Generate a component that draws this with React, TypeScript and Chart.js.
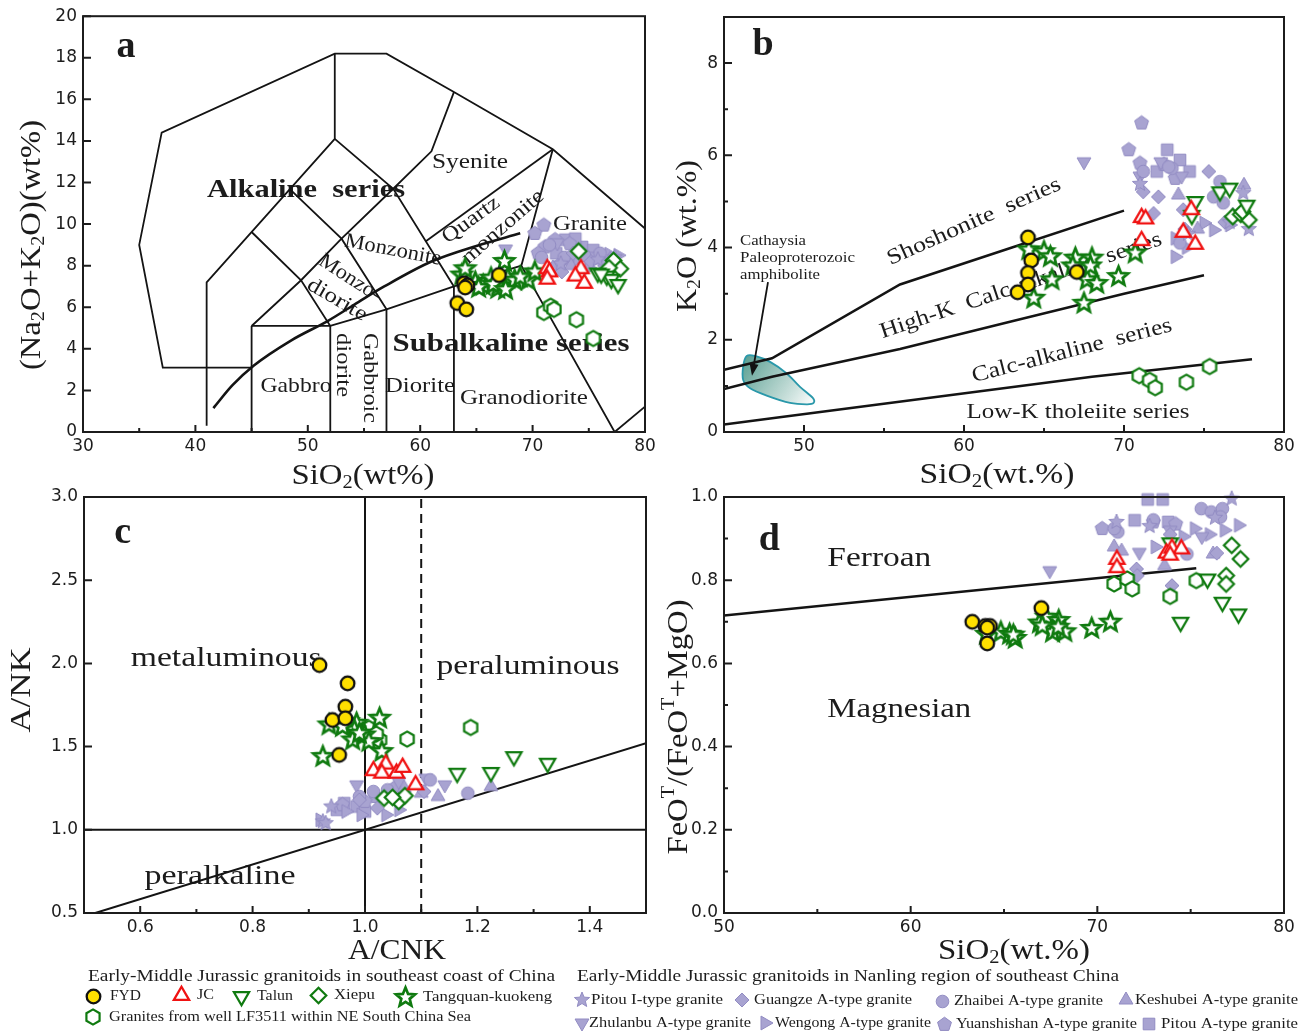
import { useEffect, useRef } from 'react';
import { Chart, registerables } from 'chart.js';

Chart.register(...registerables);

type P = [number, number];
type Seg = { t: string; s?: 'sub' | 'sup' };

// ---------------- categories ----------------
const seriesKeys = ['fyd', 'jc', 'talun', 'xiepu', 'tang', 'lf', 'pitouI', 'guangze', 'zhaibei', 'keshubei', 'zhulanbu', 'wengong', 'yuanshishan', 'pitouA'];
const seriesNames = ['FYD', 'JC', 'Talun', 'Xiepu', 'Tangquan-kuokeng', 'Granites from well LF3511 within NE South China Sea',
  'Pitou I-type granite', 'Guangze A-type granite', 'Zhaibei A-type granite', 'Keshubei A-type granite',
  'Zhulanbu A-type granite', 'Wengong A-type granite', 'Yuanshishan A-type granite', 'Pitou A-type granite'];
const legendHeaders = ['Early-Middle Jurassic granitoids in southeast coast of China', 'Early-Middle Jurassic granitoids in Nanling region of southeast China'];

// ---------------- tick labels ----------------
const aXTicks = [30, 40, 50, 60, 70, 80];
const aXMinor = [35, 45, 55, 65, 75];
const aYTicks = [0, 2, 4, 6, 8, 10, 12, 14, 16, 18, 20];
const bXTicks = [50, 60, 70, 80];
const bXMinor = [55, 65, 75];
const bYTicks = [0, 2, 4, 6, 8];
const bYMinor = [1, 3, 5, 7];
const cXTicks = [0.6, 0.8, 1.0, 1.2, 1.4];
const cXMinor = [0.7, 0.9, 1.1, 1.3];
const cYTicks = [0.5, 1.0, 1.5, 2.0, 2.5, 3.0];
const dXTicks = [50, 60, 70, 80];
const dXMinor = [55, 65, 75];
const dYTicks = [0, 0.2, 0.4, 0.6, 0.8, 1.0];
const dYMinor = [0.1, 0.3, 0.5, 0.7, 0.9];

// ---------------- panel a: TAS boundaries ----------------
const aOuter: P[] = [[45, 3.1], [37.1, 3.1], [35, 9], [37, 14.4], [52.4, 18.2], [57, 18.2], [63, 16.35], [71.8, 13.6], [86, 7.0]];
const aFoidLine: P[] = [[41, 0.3], [41, 7.2], [52.4, 14.1], [52.4, 18.2]];
const aMonzogabbroTop: P[] = [[45, 9.62], [49.4, 7.3], [52, 5.1]];
const aMainDiag: P[] = [[45, 5.1], [49.4, 7.3], [53, 9.3], [57.6, 11.7], [61, 13.5], [63, 16.35]];
const aPhonoLine: P[] = [[48.4, 11.68], [53, 9.3], [57, 5.9]];
const aSyeniteLine: P[] = [[52.4, 14.1], [57.6, 11.7], [63, 7]];
const aQtzMonzTop: P[] = [[60.5, 9.18], [71.8, 13.6]];
const aGraniteLine: P[] = [[71.8, 13.6], [69, 8], [77.3, 0]];
const aOuterBottom: P[] = [[77.3, 0], [87.5, 4.6]];
const aSubalkTop: P[] = [[45, 5.1], [52, 5.1], [57, 5.9], [63, 7], [69, 8]];
const aV45: P[] = [[45, 0], [45, 5.1]];
const aV52: P[] = [[52, 0], [52, 5.1]];
const aV57: P[] = [[57, 0], [57, 5.9]];
const aV63: P[] = [[63, 0], [63, 7]];
const aAlkCurve: P[] = [[41.6, 1.15], [43.3, 2.25], [45.2, 3.2], [48.5, 4.4], [51.8, 5.35], [54.5, 6.25], [56.8, 7.0], [61, 8.2], [65, 8.95], [68.9, 9.56]];

// ---------------- panel a: samples ----------------
const aFYD: P[] = [[63.9, 7.15], [64.2, 7.05], [64.0, 6.95], [67.0, 7.55], [63.3, 6.2], [64.1, 5.9]];
const aJC: P[] = [[71.3, 7.85], [71.5, 7.7], [71.3, 7.35], [74.3, 7.85], [73.8, 7.5], [74.6, 7.15]];
const aTalun: P[] = [[75.8, 7.65], [76.6, 7.5], [77.0, 7.35], [77.6, 7.1], [76.1, 7.6]];
const aXiepu: P[] = [[74.1, 8.7], [77.2, 8.25], [77.8, 7.85], [76.8, 7.9]];
const aTang: P[] = [[63.7, 7.55], [64.0, 7.85], [64.9, 7.2], [65.6, 7.05], [66.3, 7.4], [66.9, 6.9], [67.2, 7.15], [67.5, 8.2], [67.8, 7.4], [68.4, 7.3], [69.6, 7.3], [70.2, 7.7], [65.2, 6.95], [66.5, 7.1], [67.6, 6.85], [68.9, 7.45]];
const aLF: P[] = [[71.0, 5.75], [71.6, 6.05], [71.9, 5.9], [73.9, 5.4], [75.4, 4.5]];
const aPitouI: P[] = [[75.8, 8.3], [77.3, 8.4], [72.5, 8.1]];
const aGuangze: P[] = [[73.6, 8.6], [75.2, 8.2], [76.4, 8.0], [72.6, 7.7]];
const aZhaibei: P[] = [[71.5, 9.0], [72.8, 8.4], [74.6, 8.5], [76.0, 8.6], [70.8, 8.4]];
const aKeshubei: P[] = [[73.4, 8.0], [76.9, 8.3], [71.8, 7.9]];
const aZhulanbu: P[] = [[67.6, 8.8], [72.2, 9.1], [75.6, 8.45]];
const aWengong: P[] = [[74.0, 8.3], [76.8, 8.55], [77.6, 8.5], [75.0, 7.9]];
const aYuanshishan: P[] = [[71.0, 9.95], [70.2, 9.55], [72.0, 9.25], [71.1, 8.9], [70.5, 8.6], [73.3, 9.05], [72.3, 8.0]];
const aPitouA: P[] = [[72.9, 9.25], [74.4, 8.9], [75.4, 8.75], [73.2, 8.3], [72.1, 8.6], [76.0, 8.35], [73.8, 9.3]];

// ---------------- panel b: K2O vs SiO2 ----------------
const bLowK: P[] = [[45, 0.16], [48, 0.3], [68, 1.2], [78, 1.58]];
const bCalcAlk: P[] = [[45, 0.93], [48, 1.2], [56, 1.8], [63, 2.4], [70, 3.0], [75, 3.4]];
const bHighK: P[] = [[45, 1.35], [48, 1.6], [56, 3.2], [63, 4.0], [70, 4.8]];
const bAmphibolite: P[] = [[46.42, 1.65], [46.94, 1.65], [47.88, 1.52], [48.92, 1.27], [49.75, 0.98], [50.55, 0.74], [50.6, 0.63], [50.2, 0.6], [49.13, 0.63], [47.67, 0.79], [46.63, 0.95], [46.2, 1.13], [46.2, 1.43]];
const bArrow: P[] = [[47.75, 3.25], [46.75, 1.22]];

const bFYD: P[] = [[64.0, 4.22], [64.2, 3.72], [64.0, 3.45], [64.0, 3.2], [63.35, 3.03], [67.05, 3.47]];
const bJC: P[] = [[71.1, 4.65], [71.35, 4.62], [71.1, 4.15], [74.2, 4.82], [73.7, 4.33], [74.45, 4.07]];
const bTalun: P[] = [[74.45, 5.0], [74.24, 4.7], [76.0, 5.21], [76.6, 5.29], [77.67, 4.92]];
const bXiepu: P[] = [[76.8, 4.67], [77.3, 4.72], [77.8, 4.6], [77.4, 4.78]];
const bTang: P[] = [[64.05, 3.95], [65.0, 3.91], [65.4, 3.8], [64.36, 2.9], [65.5, 3.3], [66.96, 3.77], [68.0, 3.77], [67.7, 3.3], [68.3, 3.22], [67.5, 2.79], [69.66, 3.37], [70.7, 3.88], [67.9, 3.6], [66.8, 3.6]];
const bLF: P[] = [[70.95, 1.22], [71.6, 1.12], [71.95, 0.96], [73.9, 1.08], [75.35, 1.42]];
const bPitouI: P[] = [[71.0, 5.38], [77.45, 5.18], [76.6, 4.55], [77.8, 4.4], [74.0, 4.3]];
const bGuangze: P[] = [[75.3, 5.65], [71.2, 5.21], [72.15, 5.1], [71.85, 4.74], [73.7, 4.82], [73.8, 4.4], [76.3, 4.55]];
const bZhaibei: P[] = [[71.2, 5.65], [73.0, 5.72], [76.0, 5.43], [75.6, 5.1], [76.2, 4.97], [73.5, 4.1], [72.8, 5.75]];
const bKeshubei: P[] = [[73.4, 5.14], [77.5, 5.35], [74.6, 4.4], [76.8, 4.7]];
const bZhulanbu: P[] = [[67.5, 5.86], [72.3, 5.86], [71.0, 5.55], [73.6, 5.55]];
const bWengong: P[] = [[73.2, 4.2], [73.2, 3.8], [75.0, 4.53], [75.6, 4.38], [76.6, 4.49], [73.9, 4.0]];
const bYuanshishan: P[] = [[71.1, 6.7], [70.3, 6.12], [71.0, 5.83], [73.2, 5.5], [72.5, 5.8]];
const bPitouA: P[] = [[72.7, 6.12], [73.5, 5.9], [72.05, 5.65], [74.1, 5.65]];

// ---------------- panel c: A/NK vs A/CNK ----------------
const cHoriz: P[] = [[0.5, 1], [1.5, 1]];
const cVert: P[] = [[1, 0.5], [1, 3]];
const cDashed: P[] = [[1.1, 0.5], [1.1, 3]];
const cDiag: P[] = [[0.52, 0.5], [1.5, 1.52]];

const cFYD: P[] = [[0.919, 1.99], [0.969, 1.88], [0.965, 1.74], [0.942, 1.66], [0.965, 1.67], [0.954, 1.45]];
const cJC: P[] = [[1.015, 1.355], [1.037, 1.395], [1.03, 1.34], [1.056, 1.34], [1.067, 1.375], [1.09, 1.27]];
const cTalun: P[] = [[1.164, 1.34], [1.224, 1.345], [1.265, 1.44], [1.325, 1.4]];
const cXiepu: P[] = [[1.034, 1.19], [1.06, 1.17], [1.071, 1.205], [1.049, 1.195]];
const cTang: P[] = [[0.936, 1.63], [0.925, 1.44], [0.97, 1.65], [0.985, 1.64], [1.026, 1.67], [0.981, 1.6], [0.999, 1.57], [0.978, 1.54], [1.007, 1.53], [1.03, 1.47], [0.99, 1.58], [0.96, 1.62]];
const cLF: P[] = [[1.007, 1.61], [1.026, 1.54], [1.075, 1.545], [1.188, 1.615], [1.02, 1.575]];
const cPitouI: P[] = [[0.94, 1.14], [0.925, 1.05], [0.93, 1.04]];
const cGuangze: P[] = [[1.105, 1.23], [1.022, 1.13], [1.06, 1.16], [0.99, 1.18]];
const cZhaibei: P[] = [[1.116, 1.3], [1.183, 1.22], [1.015, 1.23], [1.04, 1.24], [0.99, 1.2]];
const cKeshubei: P[] = [[1.13, 1.2], [1.224, 1.26], [1.1, 1.22], [1.07, 1.25]];
const cZhulanbu: P[] = [[0.985, 1.27], [1.108, 1.31], [1.142, 1.27], [1.06, 1.29]];
const cWengong: P[] = [[0.966, 1.11], [0.993, 1.09], [1.037, 1.09], [0.92, 1.06], [1.06, 1.12]];
const cYuanshishan: P[] = [[1.052, 1.25], [1.019, 1.2], [0.96, 1.15], [1.0, 1.17]];
const cPitouA: P[] = [[0.963, 1.16], [0.985, 1.14], [1.0, 1.11], [0.95, 1.12]];

// ---------------- panel d: FeOT/(FeOT+MgO) vs SiO2 ----------------
const dFerroan: P[] = [[50, 0.715], [75.3, 0.829]];

const dFYD: P[] = [[63.3, 0.70], [64.0, 0.69], [64.25, 0.69], [64.1, 0.648], [67.0, 0.733], [64.1, 0.686]];
const dJC: P[] = [[71.05, 0.85], [71.05, 0.83], [73.7, 0.865], [74.0, 0.877], [74.5, 0.875], [73.9, 0.86]];
const dTalun: P[] = [[75.9, 0.803], [76.7, 0.747], [77.56, 0.719], [74.46, 0.699], [73.9, 0.89]];
const dXiepu: P[] = [[77.2, 0.884], [77.67, 0.851], [76.9, 0.811], [76.9, 0.791]];
const dTang: P[] = [[64.06, 0.67], [64.83, 0.675], [65.3, 0.67], [65.6, 0.66], [66.9, 0.697], [67.27, 0.711], [67.93, 0.703], [67.6, 0.675], [68.26, 0.676], [67.9, 0.687], [69.7, 0.684], [70.7, 0.699], [67.05, 0.69], [65.5, 0.668]];
const dLF: P[] = [[70.9, 0.791], [71.6, 0.803], [71.87, 0.779], [73.9, 0.761], [75.3, 0.799]];
const dPitouI: P[] = [[77.2, 0.996], [71.03, 0.94], [76.3, 0.95], [72.8, 0.93]];
const dGuangze: P[] = [[72.1, 0.827], [74.0, 0.787], [72.14, 0.811], [73.9, 0.91], [76.4, 0.865]];
const dZhaibei: P[] = [[75.57, 0.972], [76.1, 0.964], [76.7, 0.972], [76.6, 0.952], [71.1, 0.916], [70.9, 0.924], [74.8, 0.863], [73.0, 0.945]];
const dKeshubei: P[] = [[70.9, 0.88], [76.2, 0.863], [73.6, 0.835], [71.3, 0.87]];
const dZhulanbu: P[] = [[67.45, 0.823], [72.25, 0.867], [73.9, 0.92], [75.6, 0.905]];
const dWengong: P[] = [[77.56, 0.932], [76.8, 0.92], [75.2, 0.924], [73.1, 0.88], [74.6, 0.905], [76.0, 0.91]];
const dYuanshishan: P[] = [[70.26, 0.924], [73.0, 0.94], [74.2, 0.935]];
const dPitouA: P[] = [[72.7, 0.994], [73.5, 0.994], [72.0, 0.944], [73.8, 0.94]];

// ---------------- styling ----------------
const SERIF = '"Liberation Serif", "Times New Roman", serif';
const SANS = '"DejaVu Sans", "Liberation Sans", sans-serif';
const INK = '#1c1c1c';
const GREEN = '#0f7a0f';
const RED = '#f01212';
const YELLOW = '#ffe000';
const PURPLE = '#a8a3d1';
const PURPLE_EDGE = '#918bc2';

interface MarkerStyle { kind: string; r: number; fill: string; stroke: string; lw: number }
const markerStyles: Record<string, MarkerStyle> = {
  fyd: { kind: 'circle', r: 6.8, fill: YELLOW, stroke: '#111', lw: 2.3 },
  jc: { kind: 'tri', r: 8.8, fill: '#fff', stroke: RED, lw: 2.3 },
  talun: { kind: 'down', r: 8.8, fill: '#fff', stroke: GREEN, lw: 2.2 },
  xiepu: { kind: 'diamond', r: 7.8, fill: '#fff', stroke: GREEN, lw: 2.2 },
  tang: { kind: 'star', r: 10, fill: '#fff', stroke: GREEN, lw: 2.7 },
  lf: { kind: 'hexagon', r: 7.6, fill: '#fff', stroke: GREEN, lw: 2.2 },
  pitouI: { kind: 'star', r: 8, fill: PURPLE, stroke: PURPLE_EDGE, lw: 1 },
  guangze: { kind: 'diamond', r: 7, fill: PURPLE, stroke: PURPLE_EDGE, lw: 1 },
  zhaibei: { kind: 'circle', r: 6.3, fill: PURPLE, stroke: PURPLE_EDGE, lw: 1 },
  keshubei: { kind: 'tri', r: 8, fill: PURPLE, stroke: PURPLE_EDGE, lw: 1 },
  zhulanbu: { kind: 'down', r: 8, fill: PURPLE, stroke: PURPLE_EDGE, lw: 1 },
  wengong: { kind: 'right', r: 8, fill: PURPLE, stroke: PURPLE_EDGE, lw: 1 },
  yuanshishan: { kind: 'pentagon', r: 7.3, fill: PURPLE, stroke: PURPLE_EDGE, lw: 1 },
  pitouA: { kind: 'square', r: 5.8, fill: PURPLE, stroke: PURPLE_EDGE, lw: 1 },
};

function shapePath(ctx: CanvasRenderingContext2D, kind: string, r: number) {
  ctx.beginPath();
  const poly = (n: number, start: number) => {
    for (let i = 0; i < n; i++) {
      const a = start + (i * 2 * Math.PI) / n;
      const px = Math.cos(a) * r, py = Math.sin(a) * r;
      if (i === 0) ctx.moveTo(px, py); else ctx.lineTo(px, py);
    }
    ctx.closePath();
  };
  switch (kind) {
    case 'circle': ctx.arc(0, 0, r, 0, Math.PI * 2); break;
    case 'tri': poly(3, -Math.PI / 2); break;
    case 'down': poly(3, Math.PI / 2); break;
    case 'right': poly(3, 0); break;
    case 'diamond': poly(4, -Math.PI / 2); break;
    case 'square': ctx.rect(-r, -r, 2 * r, 2 * r); break;
    case 'pentagon': poly(5, -Math.PI / 2); break;
    case 'hexagon': poly(6, -Math.PI / 2); break;
    case 'star':
      for (let i = 0; i < 10; i++) {
        const a = -Math.PI / 2 + (i * Math.PI) / 5;
        const rr = i % 2 ? r * 0.44 : r;
        const px = Math.cos(a) * rr, py = Math.sin(a) * rr;
        if (i === 0) ctx.moveTo(px, py); else ctx.lineTo(px, py);
      }
      ctx.closePath();
      break;
  }
}

function buildMarkers() {
  const out: Record<string, HTMLCanvasElement> = {};
  for (const k of seriesKeys) {
    const st = markerStyles[k];
    const size = Math.ceil(2 * (st.r + 2 * st.lw) + 2);
    const c = document.createElement('canvas');
    c.width = size; c.height = size;
    const ctx = c.getContext('2d')!;
    ctx.translate(size / 2, size / 2);
    shapePath(ctx, st.kind, st.r);
    ctx.fillStyle = st.fill; ctx.fill();
    ctx.lineWidth = st.lw; ctx.strokeStyle = st.stroke; ctx.lineJoin = 'miter'; ctx.stroke();
    out[k] = c;
  }
  return out;
}

interface TextOpts { bold?: boolean; rot?: number; w?: number; align?: 'left' | 'center'; family?: string; color?: string }
function drawText(ctx: CanvasRenderingContext2D, text: string | Seg[], x: number, y: number, size: number, o: TextOpts = {}) {
  const segs: Seg[] = typeof text === 'string' ? [{ t: text }] : text;
  const fam = o.family || SERIF;
  const wt = o.bold ? 'bold ' : '';
  ctx.save();
  ctx.translate(x, y);
  if (o.rot) ctx.rotate((o.rot * Math.PI) / 180);
  const fonts = segs.map((s) => (s.s ? `${wt}${Math.round(size * 0.62)}px ${fam}` : `${wt}${size}px ${fam}`));
  let total = 0;
  const widths = segs.map((s, i) => { ctx.font = fonts[i]; const w = ctx.measureText(s.t).width; total += w; return w; });
  if (o.w) ctx.scale(o.w / total, 1);
  let cx = o.align === 'left' ? 0 : -total / 2;
  ctx.fillStyle = o.color || INK;
  ctx.textBaseline = 'middle';
  ctx.textAlign = 'left';
  segs.forEach((s, i) => {
    ctx.font = fonts[i];
    const dy = s.s === 'sub' ? size * 0.26 : s.s === 'sup' ? -size * 0.32 : 0;
    ctx.fillText(s.t, cx, dy);
    cx += widths[i];
  });
  ctx.restore();
}

interface Label { t: string; x: number; y: number; size: number; bold?: boolean; rot?: number; w?: number; align?: 'left' | 'center' }
interface LineDef { pts: P[]; w?: number; dash?: number[]; smooth?: boolean }
interface Title { segs: Seg[]; x: number; y: number; w: number }
interface PanelDef {
  id: string;
  plot: { l: number; t: number; r: number; b: number };
  x: { min: number; max: number; ticks: number[]; minor: number[]; dec: number };
  y: { min: number; max: number; ticks: number[]; minor: number[]; dec: number };
  lines: LineDef[];
  series: Record<string, P[]>;
  labels: Label[];
  xTitle: Title;
  yTitle: Title;
  ellipse?: boolean;
  legend?: boolean;
}

const R = 21; // region label size

const panels: PanelDef[] = [
  {
    id: 'a',
    plot: { l: 83, t: 16, r: 645, b: 432 },
    x: { min: 30, max: 80, ticks: aXTicks, minor: aXMinor, dec: 0 },
    y: { min: 0, max: 20, ticks: aYTicks, minor: [], dec: 0 },
    lines: [
      { pts: aOuter, w: 1.8 }, { pts: aFoidLine, w: 1.8 }, { pts: aMonzogabbroTop, w: 1.8 }, { pts: aMainDiag, w: 1.8 },
      { pts: aPhonoLine, w: 1.8 }, { pts: aSyeniteLine, w: 1.8 }, { pts: aQtzMonzTop, w: 1.8 }, { pts: aGraniteLine, w: 1.8 },
      { pts: aOuterBottom, w: 1.8 }, { pts: aSubalkTop, w: 1.8 }, { pts: aV45, w: 1.8 }, { pts: aV52, w: 1.8 },
      { pts: aV57, w: 1.8 }, { pts: aV63, w: 1.8 }, { pts: aAlkCurve, w: 2.6, smooth: true },
    ],
    series: { fyd: aFYD, jc: aJC, talun: aTalun, xiepu: aXiepu, tang: aTang, lf: aLF, pitouI: aPitouI, guangze: aGuangze, zhaibei: aZhaibei, keshubei: aKeshubei, zhulanbu: aZhulanbu, wengong: aWengong, yuanshishan: aYuanshishan, pitouA: aPitouA },
    labels: [
      { t: 'a', x: 33.83, y: 18.5, size: 38, bold: true },
      { t: 'Alkaline  series', x: 49.84, y: 11.59, size: 25, bold: true, w: 198 },
      { t: 'Subalkaline series', x: 68.08, y: 4.23, size: 25, bold: true, w: 237 },
      { t: 'Syenite', x: 64.43, y: 12.98, size: R, w: 76 },
      { t: 'Granite', x: 75.1, y: 10.0, size: R, w: 74 },
      { t: 'Quartz', x: 64.52, y: 10.19, size: R, rot: -36, w: 66 },
      { t: 'monzonite', x: 67.37, y: 9.86, size: R, rot: -41, w: 102 },
      { t: 'Monzonite', x: 57.58, y: 8.75, size: R, rot: 11, w: 98 },
      { t: 'Monzo-', x: 53.75, y: 7.4, size: R, rot: 33, w: 70 },
      { t: 'diorite', x: 52.6, y: 6.35, size: R, rot: 30, w: 66 },
      { t: 'Gabbro', x: 48.95, y: 2.21, size: R, w: 71 },
      { t: 'diorite', x: 53.13, y: 3.22, size: R, rot: 90, w: 64 },
      { t: 'Gabbroic', x: 55.53, y: 2.6, size: R, rot: 90, w: 90 },
      { t: 'Diorite', x: 59.98, y: 2.21, size: R, w: 70 },
      { t: 'Granodiorite', x: 69.23, y: 1.63, size: R, w: 128 },
    ],
    xTitle: { segs: [{ t: 'SiO' }, { t: '2', s: 'sub' }, { t: '(wt%)' }], x: 363, y: 476, w: 143 },
    yTitle: { segs: [{ t: '(Na' }, { t: '2', s: 'sub' }, { t: 'O+K' }, { t: '2', s: 'sub' }, { t: 'O)(wt%)' }], x: 32, y: 245, w: 250 },
  },
  {
    id: 'b',
    plot: { l: 724, t: 17, r: 1284, b: 432 },
    x: { min: 45, max: 80, ticks: bXTicks, minor: bXMinor, dec: 0 },
    y: { min: 0, max: 9, ticks: bYTicks, minor: bYMinor, dec: 0 },
    lines: [{ pts: bLowK, w: 2.5 }, { pts: bCalcAlk, w: 2.5 }, { pts: bHighK, w: 2.5 }],
    series: { fyd: bFYD, jc: bJC, talun: bTalun, xiepu: bXiepu, tang: bTang, lf: bLF, pitouI: bPitouI, guangze: bGuangze, zhaibei: bZhaibei, keshubei: bKeshubei, zhulanbu: bZhulanbu, wengong: bWengong, yuanshishan: bYuanshishan, pitouA: bPitouA },
    labels: [
      { t: 'b', x: 47.44, y: 8.39, size: 38, bold: true },
      { t: 'Cathaysia', x: 46.0, y: 4.14, size: 15, w: 66, align: 'left' },
      { t: 'Paleoproterozoic', x: 46.0, y: 3.77, size: 15, w: 115, align: 'left' },
      { t: 'amphibolite', x: 46.0, y: 3.41, size: 15, w: 80, align: 'left' },
      { t: 'Shoshonite  series', x: 60.63, y: 4.56, size: 22, rot: -24, w: 188 },
      { t: 'High-K  Calc-alkaline  series', x: 63.56, y: 3.17, size: 22, rot: -18.5, w: 296 },
      { t: 'Calc-alkaline  series', x: 66.75, y: 1.76, size: 22, rot: -14.5, w: 206 },
      { t: 'Low-K tholeiite series', x: 67.13, y: 0.43, size: 21, w: 223 },
    ],
    xTitle: { segs: [{ t: 'SiO' }, { t: '2', s: 'sub' }, { t: '(wt.%)' }], x: 997, y: 475, w: 155 },
    yTitle: { segs: [{ t: 'K' }, { t: '2', s: 'sub' }, { t: 'O (wt.%)' }], x: 688, y: 236, w: 152 },
    ellipse: true,
  },
  {
    id: 'c',
    plot: { l: 84, t: 497, r: 646, b: 913 },
    x: { min: 0.5, max: 1.5, ticks: cXTicks, minor: cXMinor, dec: 1 },
    y: { min: 0.5, max: 3.0, ticks: cYTicks, minor: [], dec: 1 },
    lines: [{ pts: cHoriz, w: 2 }, { pts: cVert, w: 2 }, { pts: cDashed, w: 2, dash: [9, 6] }, { pts: cDiag, w: 2 }],
    series: { fyd: cFYD, jc: cJC, talun: cTalun, xiepu: cXiepu, tang: cTang, lf: cLF, pitouI: cPitouI, guangze: cGuangze, zhaibei: cZhaibei, keshubei: cKeshubei, zhulanbu: cZhulanbu, wengong: cWengong, yuanshishan: cYuanshishan, pitouA: cPitouA },
    labels: [
      { t: 'c', x: 0.569, y: 2.78, size: 38, bold: true },
      { t: 'metaluminous', x: 0.753, y: 2.03, size: 27, w: 191 },
      { t: 'peraluminous', x: 1.29, y: 1.98, size: 27, w: 183 },
      { t: 'peralkaline', x: 0.742, y: 0.716, size: 27, w: 151 },
    ],
    xTitle: { segs: [{ t: 'A/CNK' }], x: 397, y: 951, w: 98 },
    yTitle: { segs: [{ t: 'A/NK' }], x: 22, y: 690, w: 85 },
  },
  {
    id: 'd',
    plot: { l: 724, t: 497, r: 1284, b: 913 },
    x: { min: 50, max: 80, ticks: dXTicks, minor: dXMinor, dec: 0 },
    y: { min: 0, max: 1, ticks: dYTicks, minor: dYMinor, dec: 1 },
    lines: [{ pts: dFerroan, w: 2.5 }],
    series: { fyd: dFYD, jc: dJC, talun: dTalun, xiepu: dXiepu, tang: dTang, lf: dLF, pitouI: dPitouI, guangze: dGuangze, zhaibei: dZhaibei, keshubei: dKeshubei, zhulanbu: dZhulanbu, wengong: dWengong, yuanshishan: dYuanshishan, pitouA: dPitouA },
    labels: [
      { t: 'd', x: 52.43, y: 0.897, size: 38, bold: true },
      { t: 'Ferroan', x: 58.32, y: 0.851, size: 28, w: 104 },
      { t: 'Magnesian', x: 59.39, y: 0.488, size: 28, w: 144 },
    ],
    xTitle: { segs: [{ t: 'SiO' }, { t: '2', s: 'sub' }, { t: '(wt.%)' }], x: 1014, y: 951, w: 152 },
    yTitle: { segs: [{ t: 'FeO' }, { t: 'T', s: 'sup' }, { t: '/(FeO' }, { t: 'T', s: 'sup' }, { t: '+MgO)' }], x: 679, y: 727, w: 255 },
    legend: true,
  },
];

// legend layout: key, marker x, marker y, text x, text width
const legendLayout: [string, number, number, number, number][] = [
  ['fyd', 93, 996, 110, 31], ['jc', 181, 995, 197, 17], ['talun', 241, 996, 257, 36], ['xiepu', 318, 995, 334, 41],
  ['tang', 405, 997, 423, 129], ['lf', 93, 1017, 109, 362],
  ['pitouI', 582, 1000, 591, 132], ['guangze', 742, 1000, 754, 158], ['zhaibei', 942, 1001, 954, 149], ['keshubei', 1126, 1000, 1135, 163],
  ['zhulanbu', 582, 1023, 589, 162], ['wengong', 765, 1023, 775, 156], ['yuanshishan', 944, 1024, 956, 181], ['pitouA', 1149, 1024, 1161, 137],
];

const drawOrder = ['fyd', 'jc', 'tang', 'talun', 'xiepu', 'lf', 'pitouI', 'guangze', 'zhaibei', 'keshubei', 'zhulanbu', 'wengong', 'yuanshishan', 'pitouA'];

// closed Catmull-Rom path through the given pixel points
function closedSpline(ctx: CanvasRenderingContext2D, pts: number[][]) {
  const n = pts.length;
  ctx.beginPath();
  ctx.moveTo(pts[0][0], pts[0][1]);
  for (let i = 0; i < n; i++) {
    const p0 = pts[(i - 1 + n) % n], p1 = pts[i], p2 = pts[(i + 1) % n], p3 = pts[(i + 2) % n];
    const c1x = p1[0] + (p2[0] - p0[0]) / 6, c1y = p1[1] + (p2[1] - p0[1]) / 6;
    const c2x = p2[0] - (p3[0] - p1[0]) / 6, c2y = p2[1] - (p3[1] - p1[1]) / 6;
    ctx.bezierCurveTo(c1x, c1y, c2x, c2y, p2[0], p2[1]);
  }
  ctx.closePath();
}

function makeConfig(def: PanelDef, markers: Record<string, HTMLCanvasElement>): any {
  const datasets: any[] = [];
  for (const k of drawOrder) {
    const pts = def.series[k];
    if (!pts) continue;
    datasets.push({
      label: seriesNames[seriesKeys.indexOf(k)],
      data: pts.map(([x, y]) => ({ x, y })),
      pointStyle: markers[k], pointRadius: 6, pointHoverRadius: 6, showLine: false, clip: false,
    });
  }
  for (const ln of def.lines) {
    datasets.push({
      data: ln.pts.map(([x, y]) => ({ x, y })), showLine: true, pointRadius: 0, pointHoverRadius: 0,
      borderColor: '#141414', borderWidth: ln.w ?? 2, borderDash: ln.dash || [],
      cubicInterpolationMode: ln.smooth ? 'monotone' : 'default', tension: 0, fill: false,
    });
  }
  const W = 1299, H = 1033, YW = 60, XH = 40;
  const tickFont = { family: SANS, size: 17 };
  const plugin = {
    id: 'decor' + def.id,
    beforeDatasetsDraw(chart: any) {
      const ctx: CanvasRenderingContext2D = chart.ctx;
      const xs = chart.scales.x, ys = chart.scales.y;
      if (def.ellipse) {
        const pts = bAmphibolite.map(([x, y]) => [xs.getPixelForValue(x), ys.getPixelForValue(y)]);
        ctx.save();
        closedSpline(ctx, pts);
        const xsP = pts.map((p) => p[0]), ysP = pts.map((p) => p[1]);
        const g = ctx.createLinearGradient(Math.min(...xsP), Math.min(...ysP), Math.max(...xsP), Math.max(...ysP));
        g.addColorStop(0, 'rgba(78,152,138,0.95)');
        g.addColorStop(0.5, 'rgba(160,200,192,0.9)');
        g.addColorStop(1, 'rgba(255,255,255,1)');
        ctx.fillStyle = g; ctx.fill();
        ctx.strokeStyle = '#2a98aa'; ctx.lineWidth = 1.8; ctx.stroke();
        // arrow
        const [x0, y0] = [xs.getPixelForValue(bArrow[0][0]), ys.getPixelForValue(bArrow[0][1])];
        const [x1, y1] = [xs.getPixelForValue(bArrow[1][0]), ys.getPixelForValue(bArrow[1][1])];
        const ang = Math.atan2(y1 - y0, x1 - x0);
        ctx.strokeStyle = '#111'; ctx.lineWidth = 1.8;
        ctx.beginPath(); ctx.moveTo(x0, y0); ctx.lineTo(x1 - Math.cos(ang) * 6, y1 - Math.sin(ang) * 6); ctx.stroke();
        ctx.fillStyle = '#111';
        ctx.beginPath();
        ctx.moveTo(x1, y1);
        ctx.lineTo(x1 - Math.cos(ang) * 12 + Math.sin(ang) * 4.5, y1 - Math.sin(ang) * 12 - Math.cos(ang) * 4.5);
        ctx.lineTo(x1 - Math.cos(ang) * 12 - Math.sin(ang) * 4.5, y1 - Math.sin(ang) * 12 + Math.cos(ang) * 4.5);
        ctx.closePath(); ctx.fill();
        ctx.restore();
      }
      for (const lb of def.labels) {
        drawText(ctx, lb.t, xs.getPixelForValue(lb.x), ys.getPixelForValue(lb.y), lb.size, { bold: lb.bold, rot: lb.rot, w: lb.w, align: lb.align });
      }
    },
    afterDraw(chart: any) {
      const ctx: CanvasRenderingContext2D = chart.ctx;
      const xs = chart.scales.x, ys = chart.scales.y;
      const { left, right, top, bottom } = chart.chartArea;
      ctx.save();
      ctx.strokeStyle = INK; ctx.lineWidth = 2;
      ctx.beginPath();
      for (const v of def.x.ticks) { const p = xs.getPixelForValue(v); ctx.moveTo(p, bottom); ctx.lineTo(p, bottom - 7); }
      for (const v of def.x.minor) { const p = xs.getPixelForValue(v); ctx.moveTo(p, bottom); ctx.lineTo(p, bottom - 4); }
      for (const v of def.y.ticks) { const p = ys.getPixelForValue(v); ctx.moveTo(left, p); ctx.lineTo(left + 8, p); }
      for (const v of def.y.minor) { const p = ys.getPixelForValue(v); ctx.moveTo(left, p); ctx.lineTo(left + 4, p); }
      ctx.stroke();
      ctx.strokeRect(left, top, right - left, bottom - top);
      ctx.restore();
      drawText(ctx, def.xTitle.segs, def.xTitle.x, def.xTitle.y, 29, { w: def.xTitle.w });
      drawText(ctx, def.yTitle.segs, def.yTitle.x, def.yTitle.y, 29, { w: def.yTitle.w, rot: -90 });
      if (def.legend) {
        drawText(ctx, legendHeaders[0], 88, 977, 16, { align: 'left', w: 467 });
        drawText(ctx, legendHeaders[1], 577, 977, 16, { align: 'left', w: 542 });
        for (const [k, mx, my, tx, tw] of legendLayout) {
          const m = markers[k];
          ctx.drawImage(m, Math.round(mx - m.width / 2), Math.round(my - m.height / 2));
          drawText(ctx, seriesNames[seriesKeys.indexOf(k)], tx, my, 15, { align: 'left', w: tw });
        }
      }
    },
  };
  return {
    type: 'scatter',
    data: { datasets },
    options: {
      responsive: false,
      animation: false,
      events: [],
      layout: { padding: { left: def.plot.l - YW, top: def.plot.t, right: W - def.plot.r, bottom: H - def.plot.b - XH } },
      plugins: { legend: { display: false }, tooltip: { enabled: false } },
      scales: {
        x: {
          type: 'linear', min: def.x.min, max: def.x.max,
          afterBuildTicks: (s: any) => { s.ticks = def.x.ticks.map((v) => ({ value: v })); },
          afterFit: (s: any) => { s.height = XH; },
          grid: { display: false, drawTicks: false },
          border: { display: false },
          ticks: { font: tickFont, color: INK, padding: 4, maxRotation: 0, autoSkip: false, callback: (v: any) => Number(v).toFixed(def.x.dec) },
        },
        y: {
          type: 'linear', min: def.y.min, max: def.y.max,
          afterBuildTicks: (s: any) => { s.ticks = def.y.ticks.map((v) => ({ value: v })); },
          afterFit: (s: any) => { s.width = YW; },
          grid: { display: false, drawTicks: false },
          border: { display: false },
          ticks: { font: tickFont, color: INK, padding: 6, autoSkip: false, callback: (v: any) => Number(v).toFixed(def.y.dec) },
        },
      },
    },
    plugins: [plugin],
  };
}

export default function App() {
  const refs = useRef<(HTMLCanvasElement | null)[]>([]);
  useEffect(() => {
    const markers = buildMarkers();
    const charts = panels.map((def, i) => new Chart(refs.current[i] as HTMLCanvasElement, makeConfig(def, markers)));
    return () => charts.forEach((c) => c.destroy());
  }, []);
  return (
    <div style={{ position: 'absolute', left: 0, top: 0, width: 1299, height: 1033, background: '#fff', overflow: 'hidden' }}>
      {panels.map((p, i) => (
        <canvas key={p.id} ref={(el) => { refs.current[i] = el; }} width={1299} height={1033}
          style={{ position: 'absolute', left: 0, top: 0, width: 1299, height: 1033 }} />
      ))}
    </div>
  );
}
